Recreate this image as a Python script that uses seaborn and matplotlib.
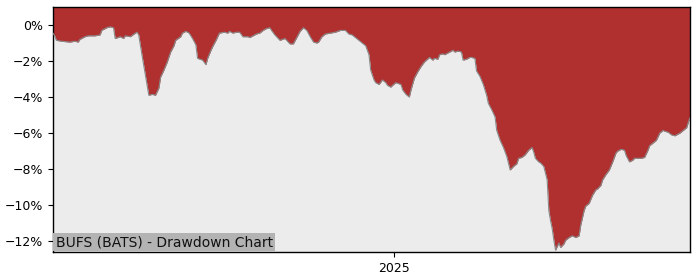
import matplotlib
matplotlib.use("Agg")
import matplotlib.pyplot as plt
import matplotlib.dates as mdates
import matplotlib.ticker as mticker
import numpy as np
import pandas as pd
import seaborn as sns

dates = [
    "2024-06-12", "2024-06-13", "2024-06-14", "2024-06-17", "2024-06-22", "2024-06-25",
    "2024-06-27", "2024-06-28", "2024-07-01", "2024-07-03", "2024-07-07", "2024-07-10",
    "2024-07-11", "2024-07-14", "2024-07-16", "2024-07-18", "2024-07-19", "2024-07-22",
    "2024-07-24", "2024-07-25", "2024-07-28", "2024-07-31", "2024-08-01", "2024-08-02",
    "2024-08-04", "2024-08-06", "2024-08-08", "2024-08-10", "2024-08-12", "2024-08-14",
    "2024-08-15", "2024-08-17", "2024-08-19", "2024-08-21", "2024-08-23", "2024-08-24",
    "2024-08-27", "2024-08-28", "2024-08-30", "2024-09-01", "2024-09-03", "2024-09-05",
    "2024-09-06", "2024-09-09", "2024-09-11", "2024-09-12", "2024-09-14", "2024-09-15",
    "2024-09-17", "2024-09-19", "2024-09-22", "2024-09-24", "2024-09-25", "2024-09-27",
    "2024-09-29", "2024-10-01", "2024-10-03", "2024-10-06", "2024-10-07", "2024-10-09",
    "2024-10-11", "2024-10-13", "2024-10-15", "2024-10-17", "2024-10-19", "2024-10-20",
    "2024-10-22", "2024-10-25", "2024-10-28", "2024-10-29", "2024-10-31", "2024-11-02",
    "2024-11-04", "2024-11-06", "2024-11-08", "2024-11-10", "2024-11-12", "2024-11-14",
    "2024-11-16", "2024-11-17", "2024-11-19", "2024-11-21", "2024-11-24", "2024-11-27",
    "2024-11-30", "2024-12-03", "2024-12-05", "2024-12-07", "2024-12-09", "2024-12-11",
    "2024-12-13", "2024-12-15", "2024-12-17", "2024-12-18", "2024-12-20", "2024-12-21",
    "2024-12-23", "2024-12-25", "2024-12-27", "2024-12-28", "2024-12-30", "2024-12-31",
    "2025-01-02", "2025-01-05", "2025-01-06", "2025-01-08", "2025-01-10", "2025-01-11",
    "2025-01-13", "2025-01-15", "2025-01-17", "2025-01-19", "2025-01-22", "2025-01-24",
    "2025-01-25", "2025-01-27", "2025-01-28", "2025-01-30", "2025-01-31", "2025-02-02",
    "2025-02-05", "2025-02-06", "2025-02-08", "2025-02-10", "2025-02-11", "2025-02-13",
    "2025-02-15", "2025-02-16", "2025-02-18", "2025-02-19", "2025-02-21", "2025-02-23",
    "2025-02-25", "2025-02-26", "2025-02-28", "2025-03-02", "2025-03-03", "2025-03-05",
    "2025-03-07", "2025-03-09", "2025-03-11", "2025-03-13", "2025-03-15", "2025-03-16",
    "2025-03-18", "2025-03-20", "2025-03-22", "2025-03-24", "2025-03-25", "2025-03-26",
    "2025-03-28", "2025-03-29", "2025-03-31", "2025-04-02", "2025-04-03", "2025-04-04",
    "2025-04-05", "2025-04-06", "2025-04-07", "2025-04-09", "2025-04-10", "2025-04-12",
    "2025-04-13", "2025-04-15", "2025-04-17", "2025-04-19", "2025-04-21", "2025-04-22",
    "2025-04-24", "2025-04-25", "2025-04-27", "2025-04-29", "2025-05-01", "2025-05-02",
    "2025-05-04", "2025-05-05", "2025-05-07", "2025-05-09", "2025-05-11", "2025-05-13",
    "2025-05-14", "2025-05-16", "2025-05-18", "2025-05-19", "2025-05-21", "2025-05-23",
    "2025-05-24", "2025-05-26", "2025-05-28", "2025-05-30", "2025-06-01", "2025-06-02",
    "2025-06-04", "2025-06-06", "2025-06-08", "2025-06-10", "2025-06-11", "2025-06-13",
    "2025-06-15", "2025-06-17", "2025-06-18", "2025-06-20", "2025-06-22", "2025-06-24",
    "2025-06-25", "2025-06-26",
]

drawdown_pct = [
    -0.45, -0.6, -0.85, -0.9, -0.95, -0.9,
    -0.95, -0.8, -0.65, -0.6, -0.6, -0.55,
    -0.3, -0.15, -0.1, -0.15, -0.75, -0.65,
    -0.75, -0.6, -0.65, -0.45, -0.4, -0.55,
    -1.7, -2.8, -3.9, -3.85, -3.9, -3.5,
    -2.9, -2.5, -2.05, -1.5, -1.15, -0.85,
    -0.65, -0.45, -0.35, -0.45, -0.75, -1.1,
    -1.85, -1.95, -2.2, -1.85, -1.4, -1.2,
    -0.85, -0.45, -0.4, -0.45, -0.35, -0.45,
    -0.4, -0.4, -0.65, -0.65, -0.7, -0.6,
    -0.5, -0.45, -0.3, -0.2, -0.15, -0.3,
    -0.55, -0.85, -0.75, -0.85, -1.05, -1.05,
    -0.7, -0.35, -0.15, -0.3, -0.65, -0.95,
    -1.0, -0.95, -0.65, -0.5, -0.45, -0.4,
    -0.3, -0.3, -0.5, -0.55, -0.7, -0.85,
    -1.0, -1.15, -1.65, -2.5, -3.05, -3.2,
    -3.3, -3.05, -3.2, -3.35, -3.45, -3.35,
    -3.2, -3.3, -3.6, -3.85, -4.0, -3.6,
    -2.95, -2.6, -2.3, -2.05, -1.8, -1.95,
    -1.85, -1.9, -1.65, -1.6, -1.65, -1.55,
    -1.4, -1.5, -1.45, -1.5, -1.95, -1.9,
    -1.8, -1.8, -1.85, -2.55, -2.85, -3.3,
    -3.9, -4.35, -4.7, -5.1, -5.85, -6.4,
    -6.8, -7.3, -8.05, -7.85, -7.7, -7.4,
    -7.35, -7.2, -6.95, -6.8, -7.05, -7.4,
    -7.6, -7.65, -7.85, -8.6, -10.3, -10.85,
    -11.3, -11.95, -12.5, -12.1, -12.35, -12.15,
    -11.95, -11.8, -11.7, -11.8, -11.7, -11.1,
    -10.3, -10.05, -9.9, -9.45, -9.15, -9.1,
    -8.9, -8.6, -8.3, -8.05, -7.6, -7.1,
    -7.0, -6.9, -6.95, -7.25, -7.6, -7.5,
    -7.4, -7.4, -7.4, -7.35, -6.95, -6.7,
    -6.55, -6.4, -6.0, -5.85, -5.9, -5.95,
    -6.1, -6.15, -6.1, -6.0, -5.85, -5.7,
    -5.4, -5.15,
]

title_text = "BUFS (BATS) - Drawdown Chart"

df = pd.DataFrame({"date": pd.to_datetime(dates), "dd": drawdown_pct})

sns.set_style("ticks")
plt.rcParams["font.family"] = ["DejaVu Sans"]

fig = plt.figure(figsize=(7, 2.8), dpi=100)
ax = fig.add_axes([53 / 700, 28 / 280, (690 - 53) / 700, (252 - 7) / 280])

y_top = 1.0
y_bottom = -12.6
ax.set_facecolor("#ececec")
ax.fill_between(df["date"], df["dd"], y_top, color="#b03030", linewidth=0, zorder=2)
sns.lineplot(data=df, x="date", y="dd", ax=ax, color="#8a8a8a", linewidth=0.8, zorder=3)

ax.set_xlim(df["date"].iloc[0], df["date"].iloc[-1])
ax.set_ylim(y_bottom, y_top)
ax.set_xlabel("")
ax.set_ylabel("")

ax.xaxis.set_major_locator(mdates.YearLocator())
ax.xaxis.set_major_formatter(mdates.DateFormatter("%Y"))
ax.yaxis.set_major_locator(mticker.MultipleLocator(2))
ax.yaxis.set_major_formatter(mticker.FuncFormatter(lambda v, p: f"{v:.0f}%".replace("-", "\u2212")))
ax.tick_params(axis="both", labelsize=9, length=3.5, width=0.8, colors="black")

for side in ["top", "right", "left", "bottom"]:
    ax.spines[side].set_visible(True)
    ax.spines[side].set_color("black")
    ax.spines[side].set_linewidth(1.0)

ax.text(0.004, 0.012, title_text, transform=ax.transAxes, fontsize=10, color="#111111",
        ha="left", va="bottom", zorder=5,
        bbox=dict(boxstyle="square,pad=0.15", facecolor="#b3b3b3", edgecolor="none"))

fig.savefig("out.png", dpi=100)
